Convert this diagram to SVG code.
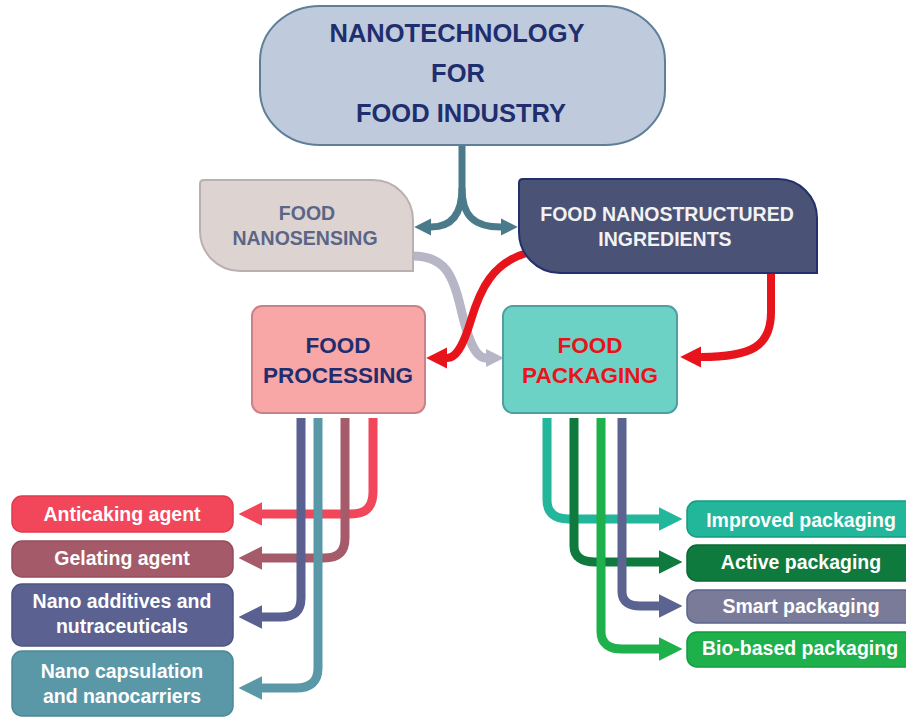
<svg xmlns="http://www.w3.org/2000/svg" width="906" height="717" viewBox="0 0 906 717">
  <style>
    text { font-family: "Liberation Sans", Arial, sans-serif; font-weight: bold; text-anchor: middle; }
    .title { font-size: 25.5px; fill: #1f2e6e; }
    .mid { font-size: 19.5px; }
    .main { font-size: 22.5px; }
    .out { font-size: 19.5px; fill: #ffffff; }
    .conn { fill: none; stroke-linejoin: round; }
  </style>
  <defs>
    <marker id="hTeal" viewBox="0 0 10 10" refX="0" refY="5" markerWidth="2.4" markerHeight="3" orient="auto"><path d="M0,0 L10,5 L0,10 z" fill="#4b7b8b"/></marker>
    <marker id="hRed" viewBox="0 0 10 10" refX="0" refY="5" markerWidth="2.6" markerHeight="3" orient="auto"><path d="M0,0 L10,5 L0,10 z" fill="#e8141b"/></marker>
    <marker id="hGray" viewBox="0 0 10 10" refX="0" refY="5" markerWidth="2" markerHeight="2.6" orient="auto"><path d="M0,0 L10,5 L0,10 z" fill="#b6b6c6"/></marker>
    <marker id="hAnti" viewBox="0 0 10 10" refX="0" refY="5" markerWidth="2.6" markerHeight="2.8" orient="auto"><path d="M0,0 L10,5 L0,10 z" fill="#f2475a"/></marker>
    <marker id="hGel" viewBox="0 0 10 10" refX="0" refY="5" markerWidth="2.6" markerHeight="2.8" orient="auto"><path d="M0,0 L10,5 L0,10 z" fill="#a65b6b"/></marker>
    <marker id="hAdd" viewBox="0 0 10 10" refX="0" refY="5" markerWidth="2.6" markerHeight="2.8" orient="auto"><path d="M0,0 L10,5 L0,10 z" fill="#5a6190"/></marker>
    <marker id="hCap" viewBox="0 0 10 10" refX="0" refY="5" markerWidth="2.6" markerHeight="2.8" orient="auto"><path d="M0,0 L10,5 L0,10 z" fill="#5a97a7"/></marker>
    <marker id="hImp" viewBox="0 0 10 10" refX="0" refY="5" markerWidth="2.6" markerHeight="2.8" orient="auto"><path d="M0,0 L10,5 L0,10 z" fill="#22b69b"/></marker>
    <marker id="hAct" viewBox="0 0 10 10" refX="0" refY="5" markerWidth="2.6" markerHeight="2.8" orient="auto"><path d="M0,0 L10,5 L0,10 z" fill="#0e7a3d"/></marker>
    <marker id="hSma" viewBox="0 0 10 10" refX="0" refY="5" markerWidth="2.6" markerHeight="2.8" orient="auto"><path d="M0,0 L10,5 L0,10 z" fill="#5b6491"/></marker>
    <marker id="hBio" viewBox="0 0 10 10" refX="0" refY="5" markerWidth="2.6" markerHeight="2.8" orient="auto"><path d="M0,0 L10,5 L0,10 z" fill="#1db04b"/></marker>
  </defs>

  <!-- connectors -->
  <g id="connectors">
    <!-- fork from the top node -->
    <path class="conn" d="M462,145 L462,188 C462,216 450,227 431,227" stroke="#4b7b8b" stroke-width="7" marker-end="url(#hTeal)"/>
    <path class="conn" d="M462,188 C462,216 474,227 501,227" stroke="#4b7b8b" stroke-width="7" marker-end="url(#hTeal)"/>
    <!-- nanosensing to packaging -->
    <path class="conn" d="M413,256 C445,256 453,276 460,305 C468,340 475,358 486,358" stroke="#b6b6c6" stroke-width="9" marker-end="url(#hGray)"/>
    <!-- ingredients to processing and packaging -->
    <path class="conn" d="M530,252 C492,262 480,290 471,320 C462,350 455,358 447,358" stroke="#e8141b" stroke-width="8" marker-end="url(#hRed)"/>
    <path class="conn" d="M771,272 L771,312 C771,346 752,357 701,357" stroke="#e8141b" stroke-width="8" marker-end="url(#hRed)"/>
    <!-- processing outputs -->
    <path class="conn" d="M373,418 L373,492 C373,508 365,514 350,514 L262,514" stroke="#f2475a" stroke-width="9" marker-end="url(#hAnti)"/>
    <path class="conn" d="M345,418 L345,538 C345,552 338,558 324,558 L262,558" stroke="#a65b6b" stroke-width="9" marker-end="url(#hGel)"/>
    <path class="conn" d="M301,418 L301,598 C301,612 294,617 280,617 L262,617" stroke="#5a6190" stroke-width="9" marker-end="url(#hAdd)"/>
    <path class="conn" d="M318,418 L318,668 C318,682 310,688 296,688 L262,688" stroke="#5a97a7" stroke-width="9" marker-end="url(#hCap)"/>
    <!-- packaging outputs -->
    <path class="conn" d="M547,418 L547,500 C547,513 555,519 568,519 L659,519" stroke="#22b69b" stroke-width="9" marker-end="url(#hImp)"/>
    <path class="conn" d="M574,418 L574,546 C574,557 582,562 595,562 L659,562" stroke="#0e7a3d" stroke-width="9" marker-end="url(#hAct)"/>
    <path class="conn" d="M622,418 L622,592 C622,602 630,606 640,606 L659,606" stroke="#5b6491" stroke-width="9" marker-end="url(#hSma)"/>
    <path class="conn" d="M601,418 L601,632 C601,644 610,649 622,649 L659,649" stroke="#1db04b" stroke-width="9" marker-end="url(#hBio)"/>
  </g>

  <!-- main nodes -->
  <g id="nanotechnology">
    <rect x="260" y="6" width="405" height="139" rx="60" ry="55" fill="#bfcbdc" stroke="#5f7f98" stroke-width="2"/>
    <text class="title" x="457" y="42">NANOTECHNOLOGY</text>
    <text class="title" x="458" y="82">FOR</text>
    <text class="title" x="461" y="122">FOOD INDUSTRY</text>
  </g>

  <g id="nanosensing">
    <path d="M204,180 L373,180 A40,40 0 0 1 413,220 L413,271 L240,271 A40,40 0 0 1 200,231 L200,184 Q200,180 204,180 Z" fill="#ddd4d1" stroke="#bab0b2" stroke-width="2"/>
    <text class="mid" x="307" y="220" fill="#5b6587">FOOD</text>
    <text class="mid" x="305" y="245" fill="#5b6587">NANOSENSING</text>
  </g>

  <g id="nanostructured">
    <path d="M523,179 L778,179 A39,39 0 0 1 817,218 L817,273 L560,273 A41,41 0 0 1 519,232 L519,183 Q519,179 523,179 Z" fill="#4a5275" stroke="#22306b" stroke-width="2"/>
    <text class="mid" x="667" y="221" fill="#f2f2f2">FOOD NANOSTRUCTURED</text>
    <text class="mid" x="665" y="246" fill="#f2f2f2">INGREDIENTS</text>
  </g>

  <g id="processing">
    <rect x="252" y="306" width="173" height="107" rx="10" fill="#f9a6a6" stroke="#c8838a" stroke-width="2"/>
    <text class="main" x="338" y="353" fill="#1f2e6e">FOOD</text>
    <text class="main" x="338" y="383" fill="#1f2e6e">PROCESSING</text>
  </g>

  <g id="packaging">
    <rect x="503" y="306" width="174" height="107" rx="10" fill="#6dd2c6" stroke="#4f9ea2" stroke-width="2"/>
    <text class="main" x="590" y="353" fill="#e8141b">FOOD</text>
    <text class="main" x="590" y="383" fill="#e8141b">PACKAGING</text>
  </g>

  <!-- processing applications -->
  <g id="anticaking">
    <rect x="12" y="496" width="221" height="36" rx="10" fill="#f2475a" stroke="#e03a4e" stroke-width="1.5"/>
    <text class="out" x="122" y="521">Anticaking agent</text>
  </g>
  <g id="gelating">
    <rect x="12" y="541" width="221" height="36" rx="10" fill="#a55a6a" stroke="#944c5c" stroke-width="1.5"/>
    <text class="out" x="122" y="565">Gelating agent</text>
  </g>
  <g id="additives">
    <rect x="12" y="584" width="221" height="62" rx="10" fill="#5b6191" stroke="#4d5382" stroke-width="1.5"/>
    <text class="out" x="122" y="608">Nano additives and</text>
    <text class="out" x="122" y="633">nutraceuticals</text>
  </g>
  <g id="capsulation">
    <rect x="12" y="651" width="221" height="65" rx="10" fill="#5a97a7" stroke="#4c8898" stroke-width="1.5"/>
    <text class="out" x="122" y="678">Nano capsulation</text>
    <text class="out" x="122" y="703">and nanocarriers</text>
  </g>

  <!-- packaging applications -->
  <g id="improved">
    <rect x="687" y="501" width="235" height="36" rx="10" fill="#22b69b" stroke="#179a83" stroke-width="1.5"/>
    <text class="out" x="801" y="527">Improved packaging</text>
  </g>
  <g id="active">
    <rect x="687" y="545" width="235" height="36" rx="10" fill="#0e7a3d" stroke="#0a6a33" stroke-width="1.5"/>
    <text class="out" x="801" y="569">Active packaging</text>
  </g>
  <g id="smart">
    <rect x="687" y="590" width="235" height="33" rx="10" fill="#7a7b98" stroke="#5b6491" stroke-width="1.5"/>
    <text class="out" x="801" y="613">Smart packaging</text>
  </g>
  <g id="biobased">
    <rect x="687" y="632" width="235" height="35" rx="10" fill="#1db04b" stroke="#159a3f" stroke-width="1.5"/>
    <text class="out" x="800" y="655">Bio-based packaging</text>
  </g>
</svg>
